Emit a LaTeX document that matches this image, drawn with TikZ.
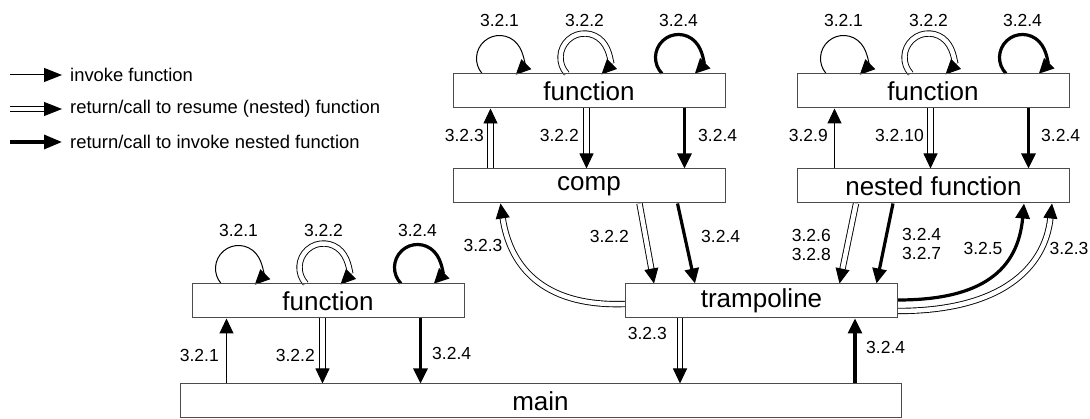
\documentclass[tikz,border=0pt]{standalone}
\usepackage{fontspec}
\setmainfont{Liberation Sans}
\usetikzlibrary{arrows.meta,calc,backgrounds}

\tikzset{
  box/.style={draw=black!70, line width=1pt, minimum width=272pt, minimum height=34pt,
    inner sep=0pt, font=\fontsize{26}{30}\selectfont},
  lbl/.style={inner sep=0pt, font=\fontsize{17.5}{19}\selectfont},
  legtext/.style={inner sep=0pt, anchor=west, font=\fontsize{18.4}{22}\selectfont},
  tipfill/.style={-{Triangle[length=15pt,width=14pt]}},
  invoke/.style={line width=1pt, tipfill},
  resume/.style={double, double distance=4.5pt, line width=0.9pt, tipfill},
  nestcall/.style={line width=3.2pt, tipfill},
  legtip/.style={-{Triangle[length=18pt,width=14pt]}},
}

% three self-calls drawn on top of a function box
\newcommand\selfloops[1]{%
  \draw[invoke] ($(#1.north west)+(47,15)+(221:23)$) arc[start angle=221,end angle=-45,radius=23];
  \draw[resume] ($(#1.north west)+(132,16)+(222:24)$) arc[start angle=222,end angle=-45,radius=24];
  \draw[nestcall] ($(#1.north west)+(226,16)+(224:23)$) arc[start angle=224,end angle=-45,radius=23];
  \node[lbl] (#1-s1) at ($(#1.north west)+(47,53)$) {3.2.1};
  \node[lbl] (#1-s2) at ($(#1.north west)+(132,53)$) {3.2.2};
  \node[lbl] (#1-s4) at ($(#1.north west)+(226,53)$) {3.2.4};
}

\begin{document}
\begin{tikzpicture}[x=1pt,y=1pt]
\useasboundingbox (0,0) rectangle (1090,419);

% legend
\node[legtext] (k1) at (70,344) {invoke function};
\node[legtext] (k2) at (70,310) {return/call to resume (nested) function};
\node[legtext] (k3) at (70,277) {return/call to invoke nested function};
\coordinate (k1s) at (10,344);
\coordinate (k2s) at (10,310);
\coordinate (k3s) at (10,277);

% boxes
\node[box] (fA) at (328,118) {function};
\node[box, minimum width=721pt] (main) at (540.5,18) {main};
\node[box] (tramp) at (761.5,118) {trampoline};
\node[box] (fB) at (589,328) {function};
\node[box] (comp) at (589,233) {comp};
\node[box] (fC) at (933,328) {function};
\node[box] (nest) at (933.5,233) {nested function};

% anchor points of the vertical connectors
\coordinate (a1) at ($(fA.south west)+(35,0)$);
\coordinate (a2) at ($(fA.south west)+(131,0)$);
\coordinate (a3) at ($(fA.south west)+(229,0)$);
\coordinate (b1) at ($(fB.south west)+(38,0)$);
\coordinate (b2) at ($(fB.south west)+(134,0)$);
\coordinate (b3) at ($(fB.south west)+(232,0)$);
\coordinate (c1) at ($(fC.south west)+(38,0)$);
\coordinate (c2) at ($(fC.south west)+(134,0)$);
\coordinate (c3) at ($(fC.south west)+(232,0)$);
\coordinate (t1) at ($(tramp.south west)+(55,0)$);
\coordinate (t2) at ($(tramp.south west)+(230,0)$);

\begin{scope}[on background layer]
  % legend arrows
  \draw[line width=1pt, legtip] (k1s) -- ([xshift=-8pt]k1.west);
  \draw[double, double distance=4pt, line width=0.9pt, legtip] (k2s) -- ([xshift=-8pt]k2.west);
  \draw[line width=3.2pt, legtip] (k3s) -- ([xshift=-8pt]k3.west);

  % self calls
  \selfloops{fA}
  \selfloops{fB}
  \selfloops{fC}

  % main <-> function
  \draw[invoke] (a1 |- main.north) -- (a1);
  \draw[resume] (a2) -- (a2 |- main.north);
  \draw[nestcall] (a3) -- (a3 |- main.north);

  % function <-> comp
  \draw[resume] (b1 |- comp.north) -- (b1);
  \draw[resume] (b2) -- (b2 |- comp.north);
  \draw[nestcall] (b3) -- (b3 |- comp.north);

  % function <-> nested function
  \draw[invoke] (c1 |- nest.north) -- (c1);
  \draw[resume] (c2) -- (c2 |- nest.north);
  \draw[nestcall] (c3) -- (c3 |- nest.north);

  % comp -> trampoline
  \draw[resume] ($(comp.south west)+(187,0)$) -- ($(tramp.north west)+(29,0)$);
  \draw[nestcall] ($(comp.south west)+(225,0)$) -- ($(tramp.north west)+(70,0)$);

  % nested function -> trampoline
  \draw[resume] ($(nest.south west)+(59,0)$) -- ($(tramp.north west)+(214.5,0)$);
  \draw[nestcall] ($(nest.south west)+(96,0)$) -- ($(tramp.north west)+(251.5,0)$);

  % trampoline -> comp
  \draw[resume] ($(tramp.west)+(0,-3)$) .. controls +(-85,-3) and +(9,-60) .. ($(comp.south west)+(48,0)$);

  % trampoline -> nested function
  \draw[nestcall] ($(tramp.east)+(0,1)$) .. controls +(85,0) and +(-6,-66) .. ($(nest.south west)+(227,0)$);
  \draw[resume] ($(tramp.east)+(0,-10)$) .. controls +(104,0) and +(-7,-64) .. ($(nest.south west)+(255,0)$);

  % trampoline <-> main
  \draw[resume] (t1) -- (t1 |- main.north);
  \draw[nestcall] (t2 |- main.north) -- (t2);
\end{scope}

% connector labels
\node[lbl, anchor=east] (la1) at (219,64) {3.2.1};
\node[lbl, anchor=east] (la2) at (315,64) {3.2.2};
\node[lbl, anchor=west] (la3) at (432,66) {3.2.4};
\node[lbl, anchor=east] (lb1) at (484,284) {3.2.3};
\node[lbl, anchor=east] (lb2) at (579,284) {3.2.2};
\node[lbl, anchor=west] (lb3) at (698,284) {3.2.4};
\node[lbl, anchor=east] (lc1) at (828,284) {3.2.9};
\node[lbl, anchor=east] (lc2) at (924,284) {3.2.10};
\node[lbl, anchor=west] (lc3) at (1041,284) {3.2.4};
\node[lbl, anchor=east] (ld1) at (629,183) {3.2.2};
\node[lbl, anchor=west] (ld2) at (701,183) {3.2.4};
\node[lbl, anchor=east, align=right] (le1) at (831,174) {3.2.6\\3.2.8};
\node[lbl, anchor=west, align=left] (le2) at (902,175) {3.2.4\\3.2.7};
\node[lbl] (lf1) at (483,174) {3.2.3};
\node[lbl] (lf2) at (983,171) {3.2.5};
\node[lbl] (lf3) at (1069,171) {3.2.3};
\node[lbl, anchor=east] (lg1) at (667,86) {3.2.3};
\node[lbl, anchor=west] (lg2) at (866,72) {3.2.4};
\end{tikzpicture}
\end{document}
